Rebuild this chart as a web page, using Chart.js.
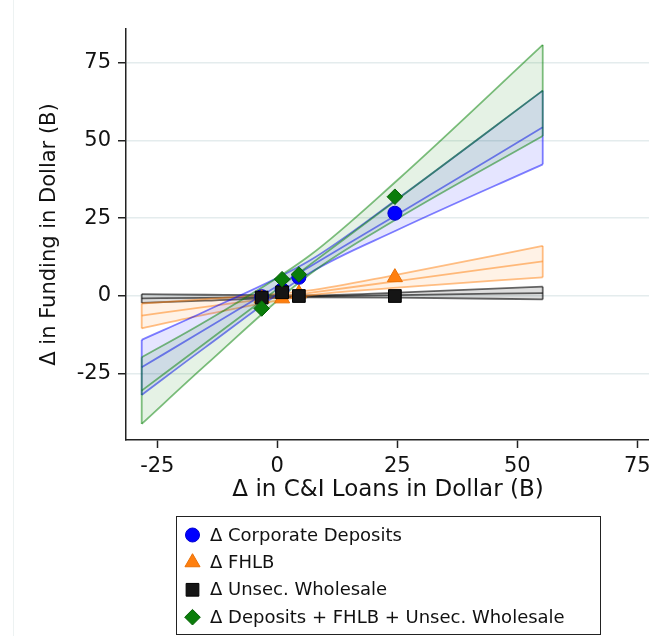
<!DOCTYPE html>
<html>
<head>
<meta charset="utf-8">
<script src="https://cdn.jsdelivr.net/npm/chart.js@4.4.0/dist/chart.umd.min.js"></script>
<style>
  html, body { margin: 0; padding: 0; background: #fff; overflow: hidden; }
  #wrap { position: relative; width: 649px; height: 636px; overflow: hidden; }
  #edge { position: absolute; left: 13px; top: 0; width: 1px; height: 636px; background: #edf2f2; }
  canvas { position: absolute; left: 0; top: 0; }
</style>
</head>
<body>
<div id="wrap">
  <div id="edge"></div>
  <canvas id="fundingChart" width="680" height="636"></canvas>
</div>
<script>
// Binned means: change in C&I loans (x) vs change in each funding source ($B)
const binX = [-3.25, 1.0, 4.5, 24.5];
const depositsPts = [-0.2, 2.0, 6.0, 26.6];
const fhlbPts = [-0.8, -0.8, 0.8, 6.0];
const unsecPts = [-0.5, 1.2, 0.0, 0.0];
const totalPts = [-4.0, 5.4, 6.9, 31.9];

// Fitted lines and confidence bands, sampled along the loan axis
const fitX = [-28.25, -15, 6.75, 25, 55.3];
const depositsFit = [-22.9, -10.7, 9.4, 26.2, 54.2];
const depositsHi = [-14.1, -4.9, 11.4, 31.2, 66.0];
const depositsLo = [-31.8, -16.5, 7.4, 21.2, 42.3];
const fhlbFit = [-6.3, -3.5, 1.0, 4.8, 11.1];
const fhlbHi = [-2.4, -1.0, 1.8, 6.9, 16.1];
const fhlbLo = [-10.4, -6.0, 0.2, 2.7, 6.0];
const unsecFit = [-0.75, -0.6, -0.1, 0.3, 0.95];
const unsecHi = [0.6, 0.4, 0.2, 1.1, 3.0];
const unsecLo = [-2.2, -1.5, -0.4, -0.5, -1.1];
const totalFit = [-30.4, -15.1, 10.0, 31.0, 66.0];
const totalHi = [-19.7, -8.2, 13.0, 37.2, 80.7];
const totalLo = [-41.1, -22.3, 7.0, 24.8, 51.4];

const xTicks = [-25, 0, 25, 50, 75];
const yTicks = [-25, 0, 25, 50, 75];
const xMin = -31.52, xMax = 77.65;
const yMin = -46.27, yMax = 85.8;

const FONT = 'DejaVu Sans';

// band = outlined polygon (upper, lower, end caps) plus the fitted line
function band(name, fit, hi, lo, line, fill, order) {
  const pts = arr => fitX.map((x, i) => ({ x, y: arr[i] }));
  const last = fitX.length - 1;
  const base = {
    type: 'line', borderColor: line, borderWidth: 1.8, pointRadius: 0,
    cubicInterpolationMode: 'monotone', order
  };
  return [
    { ...base, label: name + ' upper', data: pts(hi), fill: false },
    { ...base, label: name + ' lower', data: pts(lo), fill: '-1', backgroundColor: fill },
    { ...base, label: name + ' fit', data: pts(fit), fill: false },
    { ...base, label: name + ' left cap', fill: false, cubicInterpolationMode: 'default', tension: 0,
      data: [{ x: fitX[0], y: lo[0] }, { x: fitX[0], y: hi[0] }] },
    { ...base, label: name + ' right cap', fill: false, cubicInterpolationMode: 'default', tension: 0,
      data: [{ x: fitX[last], y: lo[last] }, { x: fitX[last], y: hi[last] }] }
  ];
}

function markers(name, ys, style, radius, color, edge, order) {
  return {
    type: 'line', label: name, showLine: false, order,
    data: binX.map((x, i) => ({ x, y: ys[i] })),
    pointStyle: style, pointRadius: radius,
    pointBackgroundColor: color, pointBorderColor: edge, pointBorderWidth: 1
  };
}

// legend in a framed box under the x-axis title
const boxedLegend = {
  id: 'boxedLegend',
  afterDraw(chart) {
    const { ctx, chartArea } = chart;
    const items = chart.data.datasets.filter(d => d.showLine === false);
    const w = 424, h = 118, rowH = 27.4;
    const left = Math.round((chartArea.left + chartArea.right) / 2 - w / 2) + 0.5;
    const top = chart.height - 120 + 0.5;
    ctx.save();
    ctx.strokeStyle = '#222';
    ctx.lineWidth = 1;
    ctx.strokeRect(left, top, w, h);
    ctx.font = '18px "' + FONT + '"';
    ctx.textBaseline = 'middle';
    items.forEach((d, i) => {
      const y = top + 18.5 + i * rowH;
      ctx.fillStyle = d.pointBackgroundColor;
      ctx.strokeStyle = d.pointBorderColor;
      ctx.lineWidth = 1;
      Chart.helpers.drawPoint(ctx, { pointStyle: d.pointStyle, radius: d.pointRadius, borderWidth: 1, rotation: 0 }, left + 16, y);
      ctx.fillStyle = '#111';
      ctx.fillText(d.label, left + 33.5, y + 1);
    });
    ctx.restore();
  }
};

new Chart(document.getElementById('fundingChart'), {
  type: 'line',
  data: {
    datasets: [
      markers('\u0394 Corporate Deposits', depositsPts, 'circle', 7, '#0000ff', '#0000d0', 3),
      markers('\u0394 FHLB', fhlbPts, 'triangle', 8.7, '#ff7f0e', '#e86f05', 2),
      markers('\u0394 Unsec. Wholesale', unsecPts, 'rect', 9, '#151515', '#000', 1),
      markers('\u0394 Deposits + FHLB + Unsec. Wholesale', totalPts, 'rectRot', 7.8, '#0a7d0a', '#056005', 0),
      ...band('deposits', depositsFit, depositsHi, depositsLo, 'rgba(0,0,255,0.5)', 'rgba(0,0,255,0.1)', 11),
      ...band('fhlb', fhlbFit, fhlbHi, fhlbLo, 'rgba(255,127,14,0.5)', 'rgba(255,127,14,0.1)', 12),
      ...band('unsec', unsecFit, unsecHi, unsecLo, 'rgba(0,0,0,0.6)', 'rgba(0,0,0,0.13)', 13),
      ...band('total', totalFit, totalHi, totalLo, 'rgba(0,128,0,0.5)', 'rgba(0,128,0,0.1)', 10)
    ]
  },
  options: {
    responsive: false,
    animation: false,
    events: [],
    layout: { padding: { top: 29, right: 30, bottom: 134, left: 0 } },
    plugins: {
      legend: { display: false },
      tooltip: { enabled: false }
    },
    scales: {
      x: {
        type: 'linear',
        min: xMin,
        max: xMax,
        afterBuildTicks: s => { s.ticks = xTicks.map(value => ({ value })); },
        afterFit: s => { s.height = 62; },
        grid: { drawOnChartArea: false, tickLength: 8, tickColor: '#222', tickWidth: 1.5 },
        border: { color: '#222', width: 1.5 },
        ticks: { font: { family: FONT, size: 21 }, color: '#111', padding: 6, maxRotation: 0 },
        title: {
          display: true, text: '\u0394 in C&I Loans in Dollar (B)', color: '#111',
          font: { family: FONT, size: 23, lineHeight: 1 }, padding: 0
        }
      },
      y: {
        type: 'linear',
        min: yMin,
        max: yMax,
        afterBuildTicks: s => { s.ticks = yTicks.map(value => ({ value })); },
        afterFit: s => { s.width = 126; },
        grid: { color: '#e4eced', lineWidth: 1.5, tickLength: 8, tickColor: '#222', tickWidth: 1.5 },
        border: { color: '#222', width: 1.5 },
        ticks: { font: { family: FONT, size: 21 }, color: '#111', padding: 7 },
        title: {
          display: true, text: '\u0394 in Funding in Dollar (B)', color: '#111',
          font: { family: FONT, size: 21, lineHeight: 1 }, padding: { top: 39.5, bottom: 0 }
        }
      }
    }
  },
  plugins: [boxedLegend]
});
</script>
</body>
</html>
